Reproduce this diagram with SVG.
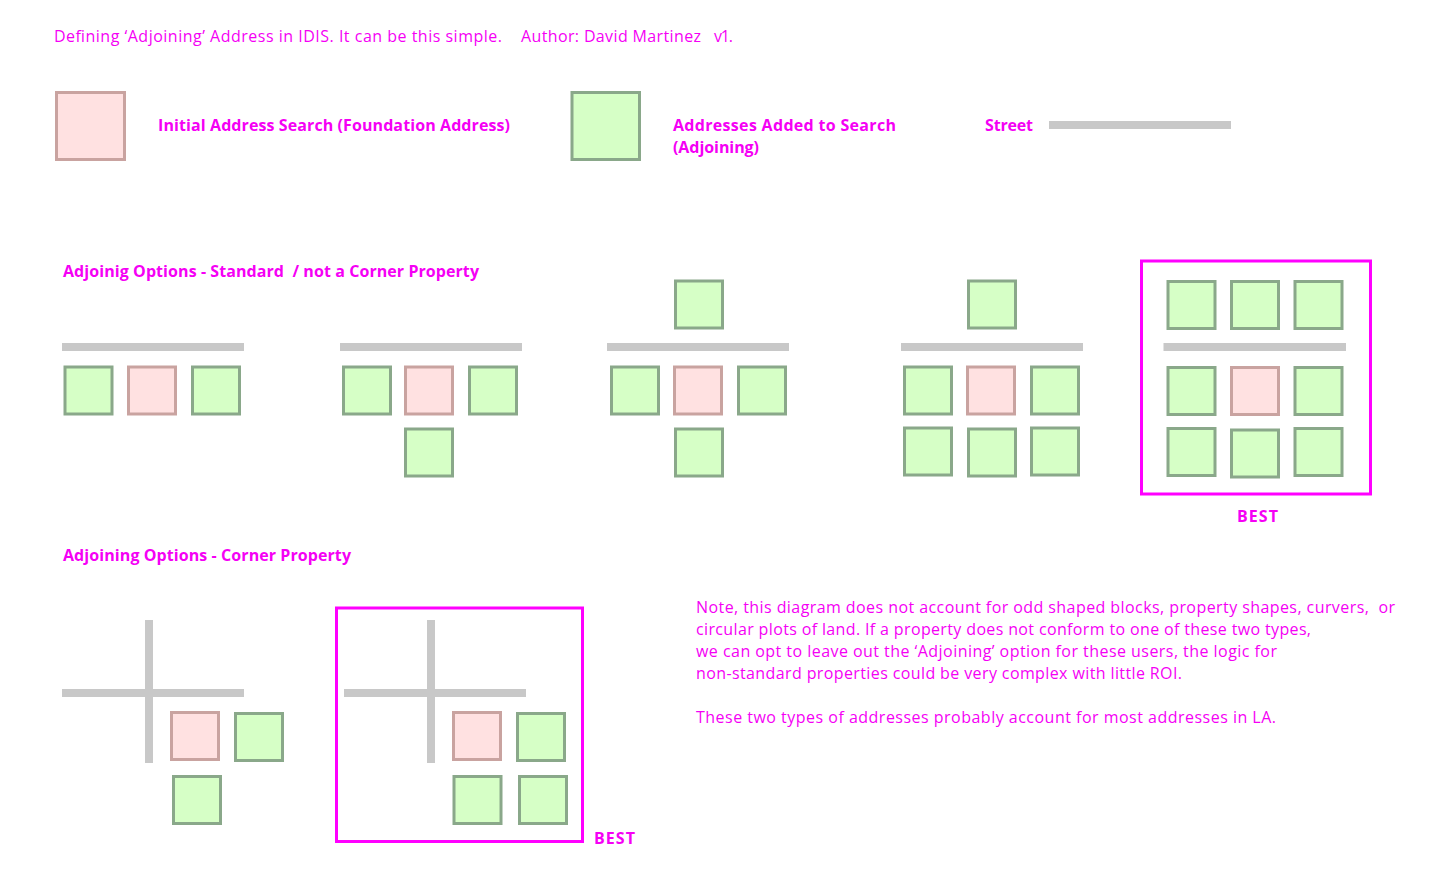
<svg xmlns="http://www.w3.org/2000/svg" width="1436" height="891" viewBox="0 0 1436 891">
<style>
  .t { font-family: "Open Sans", Lato, "Liberation Sans", sans-serif; fill: #f500f5; font-size: 16px; white-space: pre; }
  .b { font-weight: bold; }
  .f { fill: #ffe1e1; stroke: #c9a3a0; stroke-width: 3; }
  .a { fill: #d6ffc6; stroke: #8aa88a; stroke-width: 3; }
  .s { fill: #c8c8c8; }
  .best { fill: none; stroke: #ff00ff; stroke-width: 3; }
</style>
<rect width="1436" height="891" fill="#ffffff"/>

<g id="title">
  <text class="t" x="54" y="42" textLength="448" lengthAdjust="spacing">Defining ‘Adjoining’ Address in IDIS. It can be this simple.</text>
  <text class="t" x="521" y="42" textLength="180" lengthAdjust="spacing">Author: David Martinez</text>
  <text class="t" x="714" y="42" textLength="19" lengthAdjust="spacing">v1.</text>
</g>

<g id="legend">
  <g id="legend-foundation">
    <rect class="f" x="56.5" y="92.5" width="68" height="67"/>
    <text class="t b" x="158" y="131" textLength="352" lengthAdjust="spacing">Initial Address Search (Foundation Address)</text>
  </g>
  <g id="legend-adjoining">
    <rect class="a" x="572" y="92.5" width="67.5" height="67"/>
    <text class="t b" x="673" y="131" textLength="223" lengthAdjust="spacing">Addresses Added to Search</text>
    <text class="t b" x="673" y="153" textLength="86" lengthAdjust="spacing">(Adjoining)</text>
  </g>
  <g id="legend-street">
    <text class="t b" x="985" y="131" textLength="48" lengthAdjust="spacing">Street</text>
    <rect class="s" x="1049" y="121" width="182" height="8"/>
  </g>
</g>

<g id="heading-standard">
  <text class="t b" x="63" y="277" textLength="416" lengthAdjust="spacing">Adjoinig Options - Standard  / not a Corner Property</text>
</g>

<g id="option-1">
  <rect class="s" x="62" y="343" width="182" height="8"/>
  <rect class="a" x="65" y="367" width="47" height="47"/>
  <rect class="f" x="128.5" y="367" width="47" height="47"/>
  <rect class="a" x="192.5" y="367" width="47" height="47"/>
</g>

<g id="option-2">
  <rect class="s" x="340" y="343" width="182" height="8"/>
  <rect class="a" x="343.5" y="367" width="47" height="47"/>
  <rect class="f" x="405.5" y="367" width="47" height="47"/>
  <rect class="a" x="469.5" y="367" width="47" height="47"/>
  <rect class="a" x="405.5" y="429" width="47" height="47"/>
</g>

<g id="option-3">
  <rect class="a" x="675.5" y="281" width="47" height="47"/>
  <rect class="s" x="607" y="343" width="182" height="8"/>
  <rect class="a" x="611.5" y="367" width="47" height="47"/>
  <rect class="f" x="674.5" y="367" width="47" height="47"/>
  <rect class="a" x="738.5" y="367" width="47" height="47"/>
  <rect class="a" x="675.5" y="429" width="47" height="47"/>
</g>

<g id="option-4">
  <rect class="a" x="968.5" y="281" width="47" height="47"/>
  <rect class="s" x="901" y="343" width="182" height="8"/>
  <rect class="a" x="904.5" y="367" width="47" height="47"/>
  <rect class="f" x="967.5" y="367" width="47" height="47"/>
  <rect class="a" x="1031.5" y="367" width="47" height="47"/>
  <rect class="a" x="904.5" y="428" width="47" height="47"/>
  <rect class="a" x="968.5" y="429" width="47" height="47"/>
  <rect class="a" x="1031.5" y="428" width="47" height="47"/>
</g>

<g id="option-5-best">
  <rect class="best" x="1141.5" y="261" width="229" height="233"/>
  <rect class="a" x="1168" y="281.5" width="47" height="47"/>
  <rect class="a" x="1231.5" y="281.5" width="47" height="47"/>
  <rect class="a" x="1295" y="281.5" width="47" height="47"/>
  <rect class="s" x="1163.5" y="343" width="182.5" height="8"/>
  <rect class="a" x="1168" y="367.5" width="47" height="47"/>
  <rect class="f" x="1231.5" y="367.5" width="47" height="47"/>
  <rect class="a" x="1295" y="367.5" width="47" height="47"/>
  <rect class="a" x="1168" y="428.5" width="47" height="47"/>
  <rect class="a" x="1231.5" y="430" width="47" height="47"/>
  <rect class="a" x="1295" y="428.5" width="47" height="47"/>
  <text class="t b" x="1237" y="522" textLength="41" lengthAdjust="spacing">BEST</text>
</g>

<g id="heading-corner">
  <text class="t b" x="63" y="561" textLength="288" lengthAdjust="spacing">Adjoining Options - Corner Property</text>
</g>

<g id="corner-1">
  <rect class="s" x="62" y="689" width="182" height="8"/>
  <rect class="s" x="145" y="620" width="8" height="143"/>
  <rect class="f" x="171.5" y="712.5" width="47" height="47"/>
  <rect class="a" x="235.5" y="713.5" width="47" height="47"/>
  <rect class="a" x="173.5" y="776.5" width="47" height="47"/>
</g>

<g id="corner-2-best">
  <rect class="best" x="336.5" y="608" width="246" height="233.5"/>
  <rect class="s" x="344" y="689" width="182" height="8"/>
  <rect class="s" x="427" y="620" width="8" height="143"/>
  <rect class="f" x="453.5" y="712.5" width="47" height="47"/>
  <rect class="a" x="517.5" y="713.5" width="47" height="47"/>
  <rect class="a" x="454" y="776.5" width="47" height="47"/>
  <rect class="a" x="519.5" y="776.5" width="47" height="47"/>
  <text class="t b" x="594" y="844" textLength="41" lengthAdjust="spacing">BEST</text>
</g>

<g id="note">
  <text class="t" x="696" y="613" textLength="699" lengthAdjust="spacing">Note, this diagram does not account for odd shaped blocks, property shapes, curvers,  or</text>
  <text class="t" x="696" y="635" textLength="615" lengthAdjust="spacing">circular plots of land. If a property does not conform to one of these two types,</text>
  <text class="t" x="696" y="657" textLength="581" lengthAdjust="spacing">we can opt to leave out the ‘Adjoining’ option for these users, the logic for</text>
  <text class="t" x="696" y="679" textLength="486" lengthAdjust="spacing">non-standard properties could be very complex with little ROI.</text>
  <text class="t" x="696" y="723" textLength="580" lengthAdjust="spacing">These two types of addresses probably account for most addresses in LA.</text>
</g>
</svg>
